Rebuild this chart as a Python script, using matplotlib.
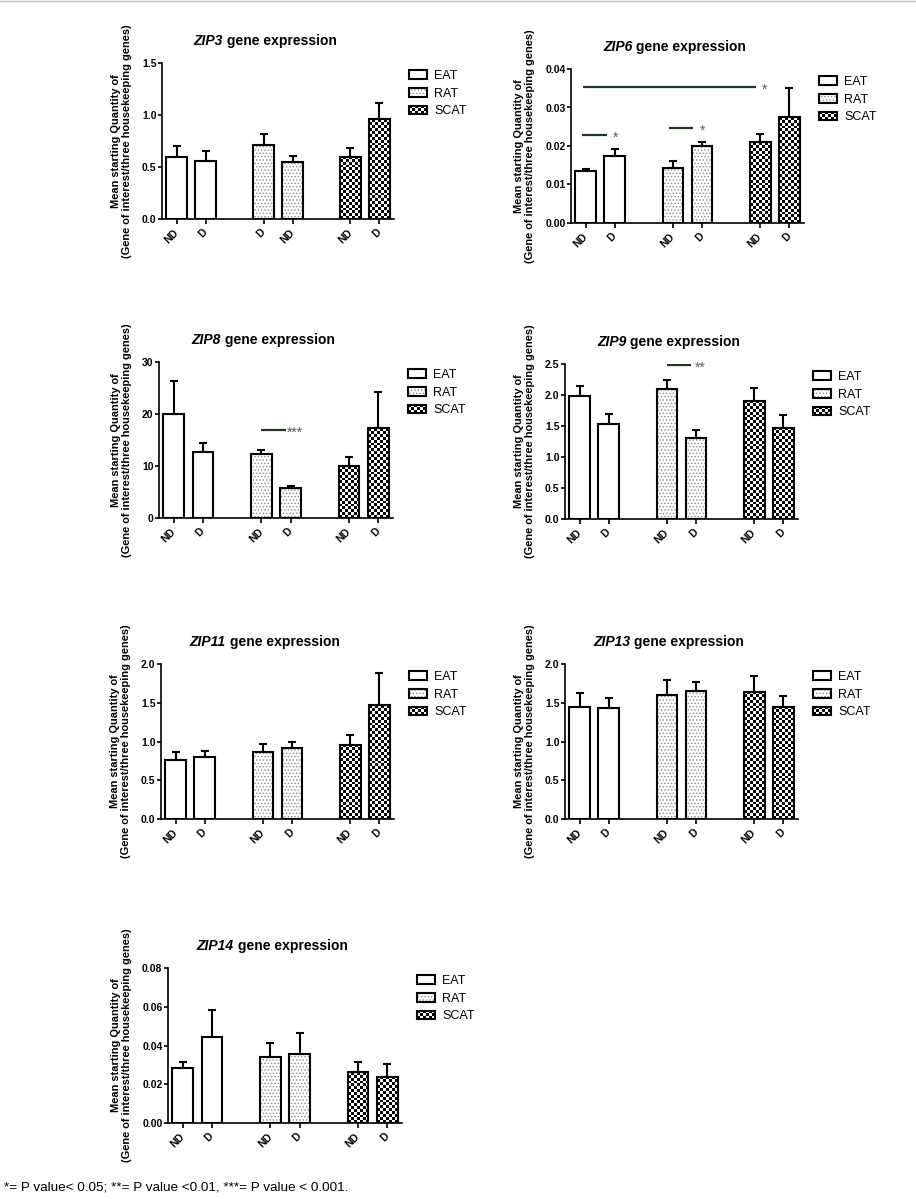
import numpy as np
import matplotlib.pyplot as plt
from matplotlib.patches import Rectangle, Patch
from matplotlib.legend_handler import HandlerBase
from matplotlib.lines import Line2D
from matplotlib.ticker import FormatStrFormatter

plt.rcParams['font.family'] = ['Liberation Sans', 'DejaVu Sans']
plt.rcParams['hatch.linewidth'] = 0.6

W, H = 916, 1199

tissues = ['EAT', 'RAT', 'SCAT']
x_pos = [0, 1, 3, 4, 6, 7]
labels_std = ['ND', 'D', 'ND', 'D', 'ND', 'D']
labels_zip3 = ['ND', 'D', 'D', 'ND', 'ND', 'D']

# means and SEM (EAT ND, EAT D, RAT, RAT, SCAT, SCAT)
zip3_mean = [0.60, 0.555, 0.71, 0.55, 0.60, 0.96]
zip3_sem = [0.10, 0.095, 0.105, 0.055, 0.085, 0.155]
zip6_mean = [0.0134, 0.0175, 0.0144, 0.0199, 0.0210, 0.0275]
zip6_sem = [0.0007, 0.0016, 0.0018, 0.0012, 0.0021, 0.0076]
zip8_mean = [20.0, 12.75, 12.4, 5.7, 10.0, 17.3]
zip8_sem = [6.3, 1.65, 0.7, 0.5, 1.8, 7.0]
zip9_mean = [1.98, 1.53, 2.09, 1.31, 1.91, 1.47]
zip9_sem = [0.16, 0.16, 0.16, 0.12, 0.20, 0.20]
zip11_mean = [0.76, 0.80, 0.87, 0.91, 0.96, 1.47]
zip11_sem = [0.11, 0.08, 0.10, 0.09, 0.12, 0.42]
zip13_mean = [1.445, 1.43, 1.605, 1.655, 1.645, 1.45]
zip13_sem = [0.185, 0.125, 0.185, 0.115, 0.20, 0.14]
zip14_mean = [0.0284, 0.0444, 0.0341, 0.0358, 0.0262, 0.0239]
zip14_sem = [0.0029, 0.0138, 0.0074, 0.0108, 0.0051, 0.0067]

# significance bars: (x start, x end, y, stars)
zip6_sig = [(-0.12, 0.72, 0.0228, '*'), (2.85, 3.7, 0.0247, '*'), (-0.1, 5.86, 0.0353, '*')]
zip8_sig = [(3.0, 3.83, 16.9, '***')]
zip9_sig = [(3.0, 3.83, 2.48, '**')]

panels = [
    ('ZIP3', zip3_mean, zip3_sem, labels_zip3, 1.5, 0.5, '%.1f', [], (162, 63, 394, 219)),
    ('ZIP6', zip6_mean, zip6_sem, labels_std, 0.04, 0.01, '%.2f', zip6_sig, (571, 69, 804, 223)),
    ('ZIP8', zip8_mean, zip8_sem, labels_std, 30, 10, '%d', zip8_sig, (159, 362, 393, 518)),
    ('ZIP9', zip9_mean, zip9_sem, labels_std, 2.5, 0.5, '%.1f', zip9_sig, (565, 364, 798, 519)),
    ('ZIP11', zip11_mean, zip11_sem, labels_std, 2.0, 0.5, '%.1f', [], (161, 664, 394, 819)),
    ('ZIP13', zip13_mean, zip13_sem, labels_std, 2.0, 0.5, '%.1f', [], (565, 664, 798, 819)),
    ('ZIP14', zip14_mean, zip14_sem, labels_std, 0.08, 0.02, '%.2f', [], (168, 968, 402, 1123)),
]

LW = 1.5
CELL = 2.9  # checkerboard cell, px


class FillHandler(HandlerBase):
    def __init__(self, kind):
        super().__init__()
        self.kind = kind

    def create_artists(self, legend, orig_handle, xdescent, ydescent, width, height, fontsize, trans):
        x0, y0 = -xdescent, -ydescent
        arts = [Rectangle((x0, y0), width, height, fc='white', ec='none', transform=trans)]
        if self.kind == 'dots':
            arts.append(Rectangle((x0, y0), width, height, fc='none', ec='0.55', lw=0,
                                  hatch='.....', transform=trans))
        elif self.kind == 'checker':
            nx, ny = 6, 3
            cw, ch = width / nx, height / ny
            for i in range(nx):
                for j in range(ny):
                    if (i + j) % 2 == 0:
                        arts.append(Rectangle((x0 + i * cw, y0 + j * ch), cw, ch, fc='black',
                                              ec='none', transform=trans))
        arts.append(Rectangle((x0, y0), width, height, fc='none', ec='black', lw=LW, transform=trans))
        return arts


fig = plt.figure(figsize=(W / 100, H / 100), dpi=100)
titles = []

for gene, mean, sem, xl, ymax, ystep, fmt, sigs, box in panels:
    l, t, r, b = box
    ax = fig.add_axes([l / W, 1 - b / H, (r - l) / W, (b - t) / H])
    ax.set_xlim(-0.5, 7.5)
    ax.set_ylim(0, ymax)
    axw_px, axh_px = r - l, b - t

    bars = ax.bar(x_pos, mean, width=0.7, facecolor='white', edgecolor='none', zorder=1)
    for i, bar in enumerate(bars):
        if i in (2, 3):
            ax.bar(bar.get_x() + bar.get_width() / 2, bar.get_height(), width=bar.get_width(),
                   facecolor='none', edgecolor='0.55', linewidth=0, hatch='.....', zorder=1.2)
        if i in (4, 5):
            nx = max(1, int(round(bar.get_width() * axw_px / 8 / CELL)))
            ny = max(1, int(round(bar.get_height() * axh_px / ymax / CELL)))
            img = np.add.outer(np.arange(ny), np.arange(nx)) % 2
            im = ax.imshow(img, extent=(bar.get_x(), bar.get_x() + bar.get_width(), 0, bar.get_height()),
                           origin='lower', cmap='gray', interpolation='nearest', aspect='auto', zorder=1.5)
            im.set_clip_path(bar)
    ax.bar(x_pos, mean, width=0.7, fill=False, edgecolor='black', linewidth=LW, zorder=2)
    ax.errorbar(x_pos, mean, yerr=[np.zeros(len(sem)), sem], fmt='none', ecolor='black',
                elinewidth=LW, capsize=3, capthick=LW, zorder=2.5)
    ax.set_xlim(-0.5, 7.5)
    ax.set_ylim(0, ymax)

    for x0, x1, y, stars in sigs:
        ax.plot([x0, x1], [y, y], color='#223822', lw=1.6, solid_capstyle='butt', zorder=3)
        ax.annotate(stars, (x1 + 0.3, y), xytext=(0, -2), textcoords='offset points',
                    fontsize=10, color='0.35', ha='center', va='center')

    ax.spines[['top', 'right']].set_visible(False)
    ax.spines['left'].set_linewidth(1.2)
    ax.spines['bottom'].set_linewidth(1.2)
    yt = np.arange(0, ymax + ystep / 2, ystep)
    ax.set_yticks(yt)
    ax.yaxis.set_major_formatter(FormatStrFormatter(fmt))
    ax.set_xticks(x_pos)
    ax.set_xticklabels(xl, rotation=45, ha='right', va='center', rotation_mode='anchor',
                       fontweight='bold', fontsize=7.5)
    ax.tick_params(axis='y', length=3, width=1.2, labelsize=7.5, pad=1)
    ax.tick_params(axis='x', length=3.5, width=1.2, pad=5)
    for lb in ax.get_yticklabels():
        lb.set_fontweight('bold')
    ax.set_ylabel('Mean starting Quantity of\n(Gene of interest/three housekeeping genes)',
                  fontsize=7.9, fontweight='bold', linespacing=1.1, labelpad=7.5)

    handles = [Patch(label=tn) for tn in tissues]
    ax.legend(handles=handles, loc='upper left', bbox_to_anchor=(1 + 15 / axw_px, 1 - 7 / axh_px),
              frameon=False, fontsize=9, borderpad=0, borderaxespad=0, handlelength=1.45,
              handleheight=0.7, handletextpad=0.55, labelspacing=0.45,
              handler_map={handles[0]: FillHandler('plain'), handles[1]: FillHandler('dots'),
                           handles[2]: FillHandler('checker')})

    xc = (l + r) / 2 - 13
    yc = 1 - (t - 22) / H
    t1 = fig.text(xc / W, yc, gene, fontsize=10, fontweight='bold', style='italic', va='center')
    t2 = fig.text(xc / W, yc, ' gene expression', fontsize=10, fontweight='bold', va='center')
    titles.append((xc, t1, t2))

fig.text(4 / W, 1 - 1188 / H, '*= P value< 0.05; **= P value <0.01, ***= P value < 0.001.',
         fontsize=9.7, va='center')
fig.add_artist(Line2D([0, 1], [1 - 0.5 / H, 1 - 0.5 / H], color='#bcb6d6', lw=1,
                      transform=fig.transFigure))

fig.canvas.draw()
rend = fig.canvas.get_renderer()
for xc, t1, t2 in titles:
    w1 = t1.get_window_extent(rend).width
    w2 = t2.get_window_extent(rend).width
    start = xc - (w1 + w2) / 2
    t1.set_x(start / W)
    t2.set_x((start + w1) / W)

fig.savefig('out.png', dpi=100)
